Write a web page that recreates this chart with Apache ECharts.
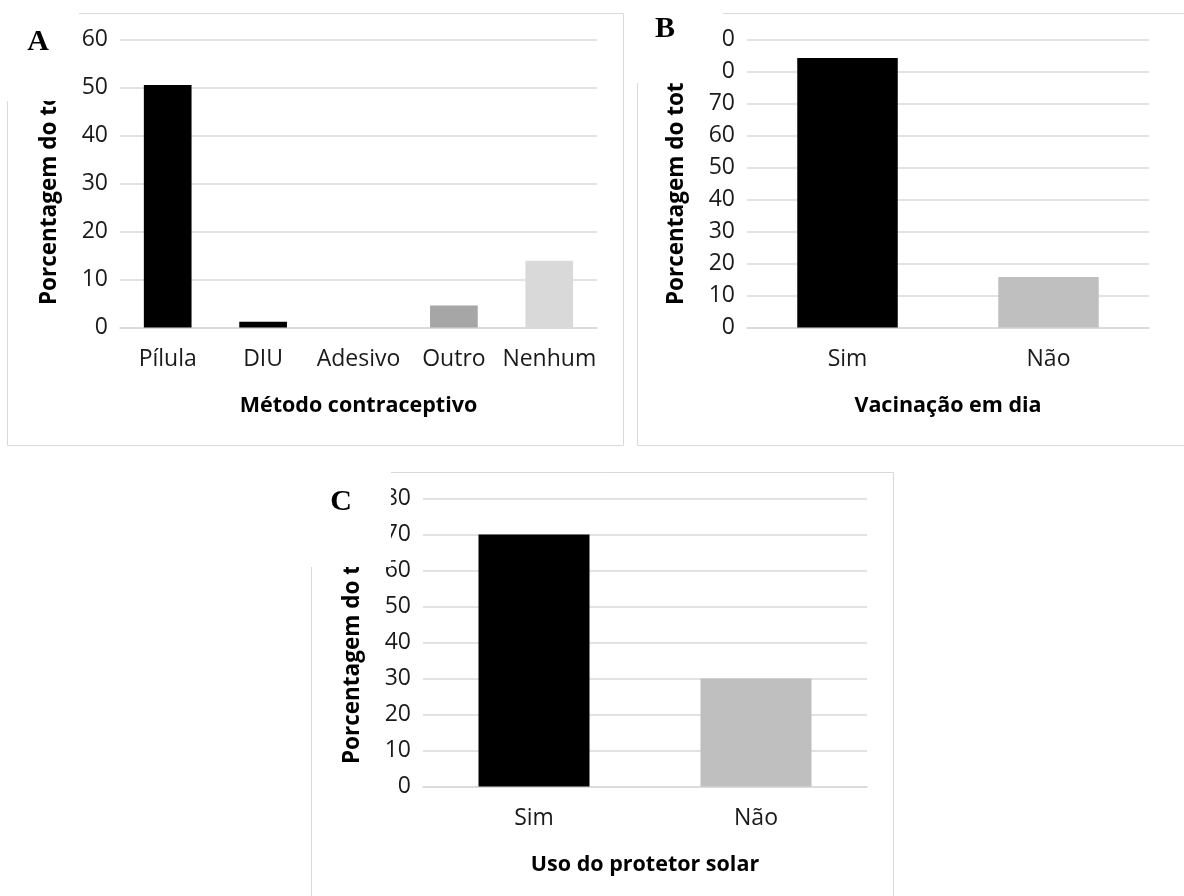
<!DOCTYPE html>
<html>
<head>
<meta charset="utf-8">
<script src="https://cdn.jsdelivr.net/npm/echarts@6/dist/echarts.min.js"></script>
<style>
html,body{margin:0;padding:0;background:#fff;}
#chart{width:1184px;height:896px;}
</style>
</head>
<body>
<div id="chart"></div>
<script>
// ---- Data ----
const catsA = ["Pílula", "DIU", "Adesivo", "Outro", "Nenhum"];
const valsA = [50.5, 1.2, 0, 4.6, 13.9];
const ticksA = [0, 10, 20, 30, 40, 50, 60];

const catsB = ["Sim", "Não"];
const valsB = [84.2, 15.8];
const ticksB = [0, 10, 20, 30, 40, 50, 60, 70, 80, 90];

const catsC = ["Sim", "Não"];
const valsC = [70, 30];
const ticksC = [0, 10, 20, 30, 40, 50, 60, 70, 80];

const xNameA = "Método contraceptivo";
const xNameB = "Vacinação em dia";
const xNameC = "Uso do protetor solar";
const yName = "Porcentagem do total";
const panelLetters = ["A", "B", "C"];

// ---- Styles ----
const colorsA = ["#000000", "#000000", "#7f7f7f", "#a6a6a6", "#d9d9d9"];
const colorsB = ["#000000", "#bfbfbf"];
const colorsC = ["#000000", "#bfbfbf"];
const FONT = "Open Sans";
const GRID_GRAY = "#d9d9d9";
const TXT = "#1a1a1a";

function yAxis(gridIndex, ticks) {
  return {
    type: "value", gridIndex: gridIndex,
    min: ticks[0], max: ticks[ticks.length - 1], interval: ticks[1] - ticks[0],
    name: yName, nameLocation: "middle", nameGap: 59,
    nameTextStyle: { fontFamily: FONT, fontWeight: "bold", fontSize: 22.5, color: "#000" },
    axisLine: { show: false }, axisTick: { show: false },
    axisLabel: { fontFamily: FONT, fontSize: 23, color: TXT, margin: 12,
      formatter: function (v) { const i = ticks.indexOf(v); return i >= 0 ? String(ticks[i]) : ""; } },
    splitLine: { lineStyle: { color: GRID_GRAY, width: 1.5 } }
  };
}
function xAxis(gridIndex, cats, name) {
  return {
    type: "category", gridIndex: gridIndex, data: cats,
    name: name, nameLocation: "middle", nameGap: 67,
    nameTextStyle: { fontFamily: FONT, fontWeight: "bold", fontSize: 21.5, color: "#000" },
    axisLine: { lineStyle: { color: GRID_GRAY, width: 1.5 } },
    axisTick: { show: false },
    axisLabel: { fontFamily: FONT, fontSize: 23, color: TXT, margin: 20, interval: 0 }
  };
}
function barSeries(idx, vals, colors) {
  return {
    type: "bar", xAxisIndex: idx, yAxisIndex: idx, barWidth: "50%",
    data: vals.map(function (v, i) { return { value: v, itemStyle: { color: colors[i] } }; }),
    animation: false
  };
}

const chart = echarts.init(document.getElementById("chart"), null, { renderer: "canvas" });
const letterStyle = { fontFamily: "Liberation Serif", fontWeight: "bold", fontSize: 30, fill: "#000", align: "center", verticalAlign: "middle" };
const option = {
  backgroundColor: "#fff",
  animation: false,
  grid: [
    { left: 120, top: 39.5, width: 477, height: 288 },
    { left: 747, top: 39.5, width: 402, height: 288 },
    { left: 423, top: 498.5, width: 444, height: 288 }
  ],
  xAxis: [xAxis(0, catsA, xNameA), xAxis(1, catsB, xNameB), xAxis(2, catsC, xNameC)],
  yAxis: [yAxis(0, ticksA), yAxis(1, ticksB), yAxis(2, ticksC)],
  series: [barSeries(0, valsA, colorsA), barSeries(1, valsB, colorsB), barSeries(2, valsC, colorsC)],
  graphic: [
    // panel frames
    { type: "rect", z: 100, shape: { x: 7.5, y: 13.5, width: 616, height: 432 }, style: { fill: null, stroke: "#d9d9d9", lineWidth: 1 } },
    { type: "rect", z: 100, shape: { x: 637.5, y: 13.5, width: 600, height: 432 }, style: { fill: null, stroke: "#d9d9d9", lineWidth: 1 } },
    { type: "rect", z: 100, shape: { x: 311.5, y: 472.5, width: 582, height: 500 }, style: { fill: null, stroke: "#d9d9d9", lineWidth: 1 } },
    // white cut-outs where the panel letters were pasted
    { type: "rect", z: 101, shape: { x: 0, y: 0, width: 79, height: 101 }, style: { fill: "#fff" } },
    { type: "rect", z: 101, shape: { x: 630, y: 0, width: 93, height: 83 }, style: { fill: "#fff" } },
    { type: "rect", z: 101, shape: { x: 300, y: 460, width: 91, height: 107 }, style: { fill: "#fff" } },
    // panel letters
    { type: "text", z: 102, x: 38, y: 42, style: Object.assign({ text: panelLetters[0] }, letterStyle) },
    { type: "text", z: 102, x: 665, y: 29, style: Object.assign({ text: panelLetters[1] }, letterStyle) },
    { type: "text", z: 102, x: 341, y: 502, style: Object.assign({ text: panelLetters[2] }, letterStyle) }
  ]
};
chart.setOption(option);
</script>
</body>
</html>
